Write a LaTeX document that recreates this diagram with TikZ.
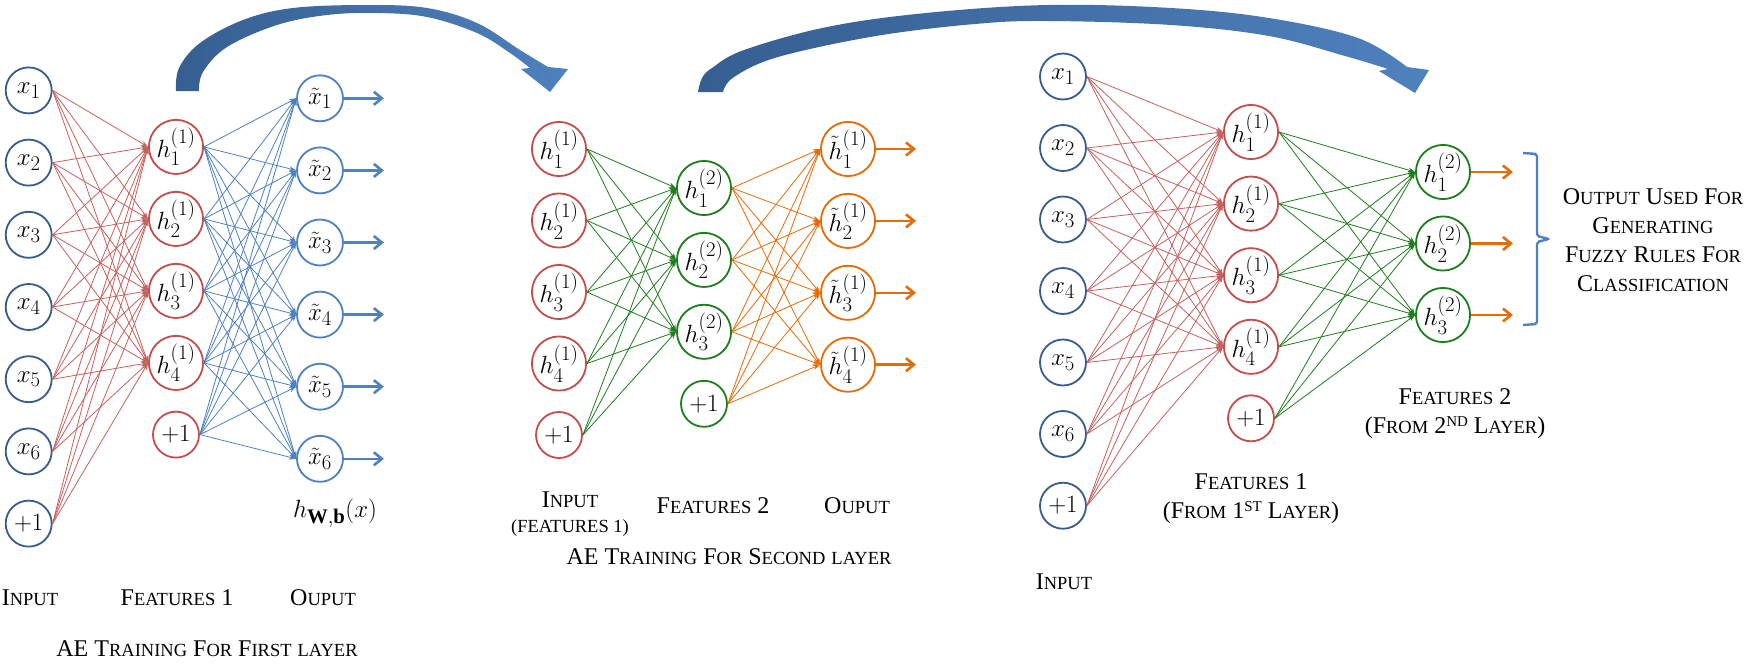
\documentclass[tikz,border=0pt]{standalone}
\usepackage{amsmath}
\usepackage{fontspec}
\setmainfont{Liberation Serif}
\usetikzlibrary{arrows.meta}

\definecolor{dblue}{HTML}{385D8A}
\definecolor{lblue}{HTML}{4F81BD}
\definecolor{nred}{HTML}{C0504D}
\definecolor{ngreen}{RGB}{30,125,30}
\definecolor{norange}{HTML}{E46C0A}
\definecolor{arrdark}{HTML}{365E91}

% small capitals made by hand
\newcommand\lsc[1]{{\fontsize{18.5}{20}\selectfont\MakeUppercase{#1}}}
\newcommand\lsup[1]{\raisebox{7pt}{\fontsize{15}{15}\selectfont #1}}

\begin{document}
\begin{tikzpicture}[x=1pt, y=-1pt,
    neuron/.style={circle, draw, line width=1.8pt, minimum size=46pt, inner sep=0pt, fill=white, font=\fontsize{24.88}{26}\selectfont},
    link/.style={line width=0.8pt, -{Stealth[length=7pt, width=5pt]}},
    outarr/.style={line width=2.6pt, -{Straight Barb[length=8pt, width=13pt]}},
    lbl/.style={font=\fontsize{24}{29}\selectfont, align=center, inner sep=0pt}]
    \useasboundingbox (0,0) rectangle (1747,664);

    % AE for the first layer
    \foreach \i in {1,...,6}
      \node[neuron, draw=dblue] (xa\i) at (28.7, {90.4+72.2*(\i-1)}) {$x_{\i}$};
    \node[neuron, draw=dblue] (xa7) at (28.7, 523.6) {$+1$};
    \foreach \i in {1,...,4}
      \node[neuron, draw=nred] (ha\i) at (176, {146.9+72*(\i-1)}) {$h_{\i}^{(1)}$};
    \node[neuron, draw=nred] (ha5) at (176, 434.6) {$+1$};
    \foreach \i in {1,...,6}
      \node[neuron, draw=lblue] (oa\i) at (320, {98.3+72.1*(\i-1)}) {$\tilde{x}_{\i}$};

    \foreach \i in {1,...,7}
      \foreach \j in {1,...,4}
        \draw[link, nred!90!white] (xa\i.east) -- (ha\j.west);
    \foreach \i in {1,...,5}
      \foreach \j in {1,...,6}
        \draw[link, lblue] (ha\i.east) -- (oa\j.west);
    \foreach \i in {1,...,6}
      \draw[outarr, lblue] (oa\i.east) -- ++(40,0);

    \node[font=\fontsize{24.88}{28}\selectfont] (hwb) at (335,513) {$h_{\mathbf{W},\mathbf{b}}(x)$};
    \node[lbl] (ina) at (30,598) {I\lsc{nput}};
    \node[lbl] (fta) at (177,598) {F\lsc{eatures} 1};
    \node[lbl] (oua) at (323,598) {O\lsc{uput}};
    \node[lbl] (tta) at (207,649) {AE T\lsc{raining} F\lsc{or} F\lsc{irst} \lsc{layer}};

    % AE for the second layer
    \foreach \i in {1,...,4}
      \node[neuron, draw=nred] (hb\i) at (559, {149+71.5*(\i-1)}) {$h_{\i}^{(1)}$};
    \node[neuron, draw=nred] (hb5) at (559, 435) {$+1$};
    \foreach \i in {1,...,3}
      \node[neuron, draw=ngreen] (gb\i) at (704, {188+71.9*(\i-1)}) {$h_{\i}^{(2)}$};
    \node[neuron, draw=ngreen] (gb4) at (704, 403.8) {$+1$};
    \foreach \i in {1,...,4}
      \node[neuron, draw=norange] (ob\i) at (848, {149+71.9*(\i-1)}) {$\tilde{h}_{\i}^{(1)}$};

    \foreach \i in {1,...,5}
      \foreach \j in {1,...,3}
        \draw[link, ngreen] (hb\i.east) -- (gb\j.west);
    \foreach \i in {1,...,4}
      \foreach \j in {1,...,4}
        \draw[link, norange] (gb\i.east) -- (ob\j.west);
    \foreach \i in {1,...,4}
      \draw[outarr, norange] (ob\i.east) -- ++(40,0);

    \node[lbl, font=\fontsize{24}{25}\selectfont] (inb) at (570,514.5) {I\lsc{nput}\\ \lsc{(features 1)}};
    \node[lbl] (ftb) at (713,506) {F\lsc{eatures} 2};
    \node[lbl] (oub) at (857,506) {O\lsc{uput}};
    \node[lbl] (ttb) at (729,557) {AE T\lsc{raining} F\lsc{or} S\lsc{econd} \lsc{layer}};

    % stacked network
    \foreach \i in {1,...,6}
      \node[neuron, draw=dblue] (xc\i) at (1063, {76.5+71.5*(\i-1)}) {$x_{\i}$};
    \node[neuron, draw=dblue] (xc7) at (1063, 505.7) {$+1$};
    \foreach \i in {1,...,4}
      \node[neuron, draw=nred] (hc\i) at (1251, {132+71.6*(\i-1)}) {$h_{\i}^{(1)}$};
    \node[neuron, draw=nred] (hc5) at (1251, 418.3) {$+1$};
    \foreach \i in {1,...,3}
      \node[neuron, draw=ngreen] (gc\i) at (1443, {172+71.5*(\i-1)}) {$h_{\i}^{(2)}$};

    \foreach \i in {1,...,7}
      \foreach \j in {1,...,4}
        \draw[link, nred!90!white] (xc\i.east) -- (hc\j.west);
    \foreach \i in {1,...,5}
      \foreach \j in {1,...,3}
        \draw[link, ngreen] (hc\i.east) -- (gc\j.west);
    \foreach \i in {1,...,3}
      \draw[outarr, norange] (gc\i.east) -- ++(42,0);

    % bracket
    \draw[lblue, line width=2.4pt, rounded corners=2pt]
      (1523,153) -- (1537,154) -- (1537,236) -- (1549,239) -- (1537,242) -- (1537,324) -- (1523,325);

    \node[lbl] (inc) at (1064,582) {I\lsc{nput}};
    \node[lbl] (ftc) at (1251,498.5) {F\lsc{eatures} 1\\(F\lsc{rom} 1\lsup{ST} L\lsc{ayer})};
    \node[lbl] (ftd) at (1455,413.5) {F\lsc{eatures} 2\\(F\lsc{rom} 2\lsup{ND} L\lsc{ayer})};
    \node[lbl] (use) at (1653,240) {O\lsc{utput} U\lsc{sed} F\lsc{or}\\ G\lsc{enerating}\\ F\lsc{uzzy} R\lsc{ules} F\lsc{or}\\ C\lsc{lassification}};

    % curved arrows
    \shade[left color=arrdark, right color=lblue]
      plot[smooth, tension=0.6] coordinates {(176,91) (179,68) (200,43) (243,20) (293,8) (367,5) (427,8) (477,23) (520,50) (548,67)}
      -- (568,69) -- (550,92) -- (521,69)
      -- plot[smooth, tension=0.6] coordinates {(530,68) (510,53) (477,33) (427,17) (377,13) (327,15) (277,25) (227,47) (203,72) (199,91)}
      -- cycle;
    \shade[left color=arrdark, right color=lblue]
      plot[smooth, tension=0.6] coordinates {(698,92) (702,78) (712,68) (744,50) (827,27) (926,13) (1048,5) (1171,8) (1269,18) (1358,38) (1407,67)}
      -- (1429,70) -- (1415,93) -- (1379,71)
      -- plot[smooth, tension=0.6] coordinates {(1388,69) (1345,56) (1269,36) (1171,25) (1048,21) (975,24) (876,36) (778,57) (734,77) (723,92)}
      -- cycle;
\end{tikzpicture}
\end{document}
